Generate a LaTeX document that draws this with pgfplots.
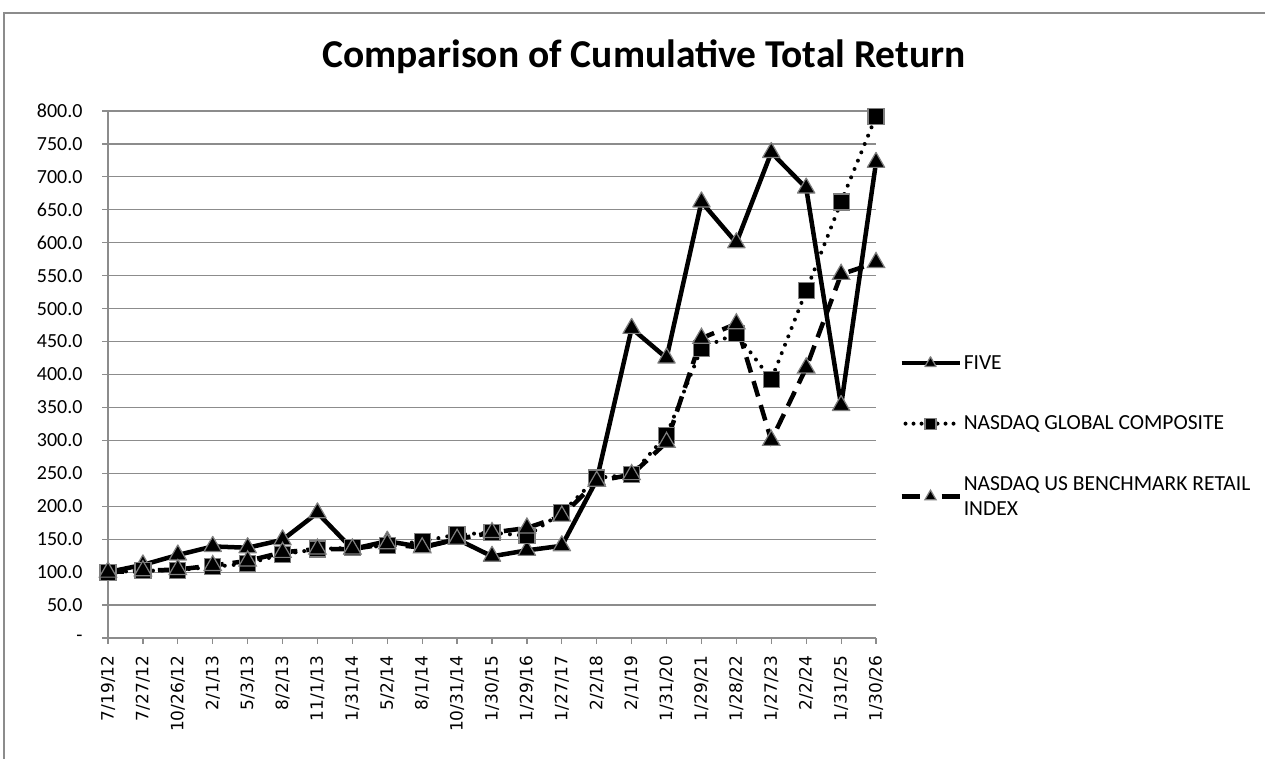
\documentclass[border=0pt]{standalone}
\usepackage{pgfplots}
\pgfplotsset{compat=1.18}
\usepackage{pgfplotstable}
\usepackage{fontspec}
\setmainfont{Carlito}
\newfontfamily\dejavu{DejaVu Sans}
\definecolor{gridgray}{HTML}{8C8C8C}
\definecolor{markgray}{HTML}{7F7F7F}

\pgfplotsset{
  fiveleg/.style={legend image code/.code={\draw[##1, mark=none, line width=4pt] (0pt,0pt) -- (58pt,0pt); \draw[##1,mark size=6.5pt, draw=none] plot[mark repeat=2,mark phase=2] coordinates {(0pt,0pt) (29pt,0pt) (58pt,0pt)};}},
  nasleg/.style={legend image code/.code={\draw[##1, mark=none, dash pattern=on 0pt off 8pt, dash phase=4pt] (0pt,0pt) -- (58pt,0pt); \draw[##1,mark size=5.5pt, draw=none] plot[mark repeat=2,mark phase=2] coordinates {(0pt,0pt) (29pt,0pt) (58pt,0pt)};}},
  retleg/.style={legend image code/.code={\draw[##1, mark=none, dash pattern=on 18pt off 22pt] (0pt,0pt) -- (58pt,0pt); \draw[##1,mark size=6.5pt, draw=none] plot[mark repeat=2,mark phase=2] coordinates {(0pt,0pt) (29pt,0pt) (58pt,0pt)};}},
}

\pgfplotstableread{
x five nasdaq retail
0 100 100 100
1 111 102 102
2 126 103 104
3 139 108 110
4 137 113 117
5 149 127 130
6 190 135 135
7 135 137 135
8 147 140 143
9 138 147 137
10 150 157 150
11 124 160 160
12 133 155 167
13 140 190 185
14 240 243 238
15 470 248 248
16 425 308 297
17 662 440 455
18 600 462 477
19 737 392 300
20 683 527 410
21 353 662 552
22 722 792 570
}\data

\begin{document}
\begin{tikzpicture}
\path[use as bounding box] (0,0) rectangle (1265pt,759pt);
\draw[gridgray,line width=1.2pt] (4pt,0) -- (4pt,746pt) -- (1265pt,746pt);
\node[font=\bfseries\fontsize{39.5}{45}\selectfont] at (644pt,702pt) {Comparison of Cumulative Total Return};
\begin{axis}[
  at={(108pt,121pt)}, anchor=south west,
  scale only axis, width=768pt, height=527pt,
  xmin=0, xmax=22, ymin=0, ymax=800,
  clip=false,
  axis x line*=bottom, axis y line*=left,
  axis line style={gridgray,line width=1.2pt},
  xtick={0,...,22},
  xticklabels={7/19/12,7/27/12,10/26/12,2/1/13,5/3/13,8/2/13,11/1/13,1/31/14,5/2/14,8/1/14,10/31/14,1/30/15,1/29/16,1/27/17,2/2/18,2/1/19,1/31/20,1/29/21,1/28/22,1/27/23,2/2/24,1/31/25,1/30/26},
  xticklabel style={font=\dejavu\fontsize{17}{20}\selectfont, rotate=90, anchor=east},
  ytick={0,50,...,800},
  yticklabels={-,50.0,100.0,150.0,200.0,250.0,300.0,350.0,400.0,450.0,500.0,550.0,600.0,650.0,700.0,750.0,800.0},
  yticklabel style={font=\fontsize{20}{24}\selectfont},
  tick align=outside,
  major tick length=6pt,
  tick style={gridgray,line width=1.2pt},
  xticklabel shift=8pt,
  yticklabel shift=16pt,
  ymajorgrids,
  major grid style={gridgray,line width=1.2pt},
  legend style={at={(1.030,0.540)}, anchor=north west, draw=none, fill=none, inner sep=0pt,
    font=\fontsize{21.5}{25}\selectfont, row sep=41pt,
    cells={anchor=west, align=left}},
]
\addplot[black, line width=4.5pt, line join=round, mark=triangle*, mark size=10pt,
  mark options={solid, fill=black, draw=markgray, line width=1.2pt}, fiveleg]
  table[x=x,y=five]{\data};
\addlegendentry{FIVE}
\addplot[black, line width=4pt, line cap=round, dash pattern=on 0pt off 9pt, mark=square*, mark size=8pt,
  mark options={solid, fill=black, draw=markgray, line width=1.2pt}, nasleg]
  table[x=x,y=nasdaq]{\data};
\addlegendentry{NASDAQ GLOBAL COMPOSITE}
\addplot[black, line width=4.5pt, dash pattern=on 16pt off 9pt, mark=triangle*, mark size=10pt,
  mark options={solid, fill=black, draw=markgray, line width=1.2pt}, retleg]
  table[x=x,y=retail]{\data};
\addlegendentry{NASDAQ US BENCHMARK RETAIL\\INDEX}
\end{axis}
\end{tikzpicture}
\end{document}
